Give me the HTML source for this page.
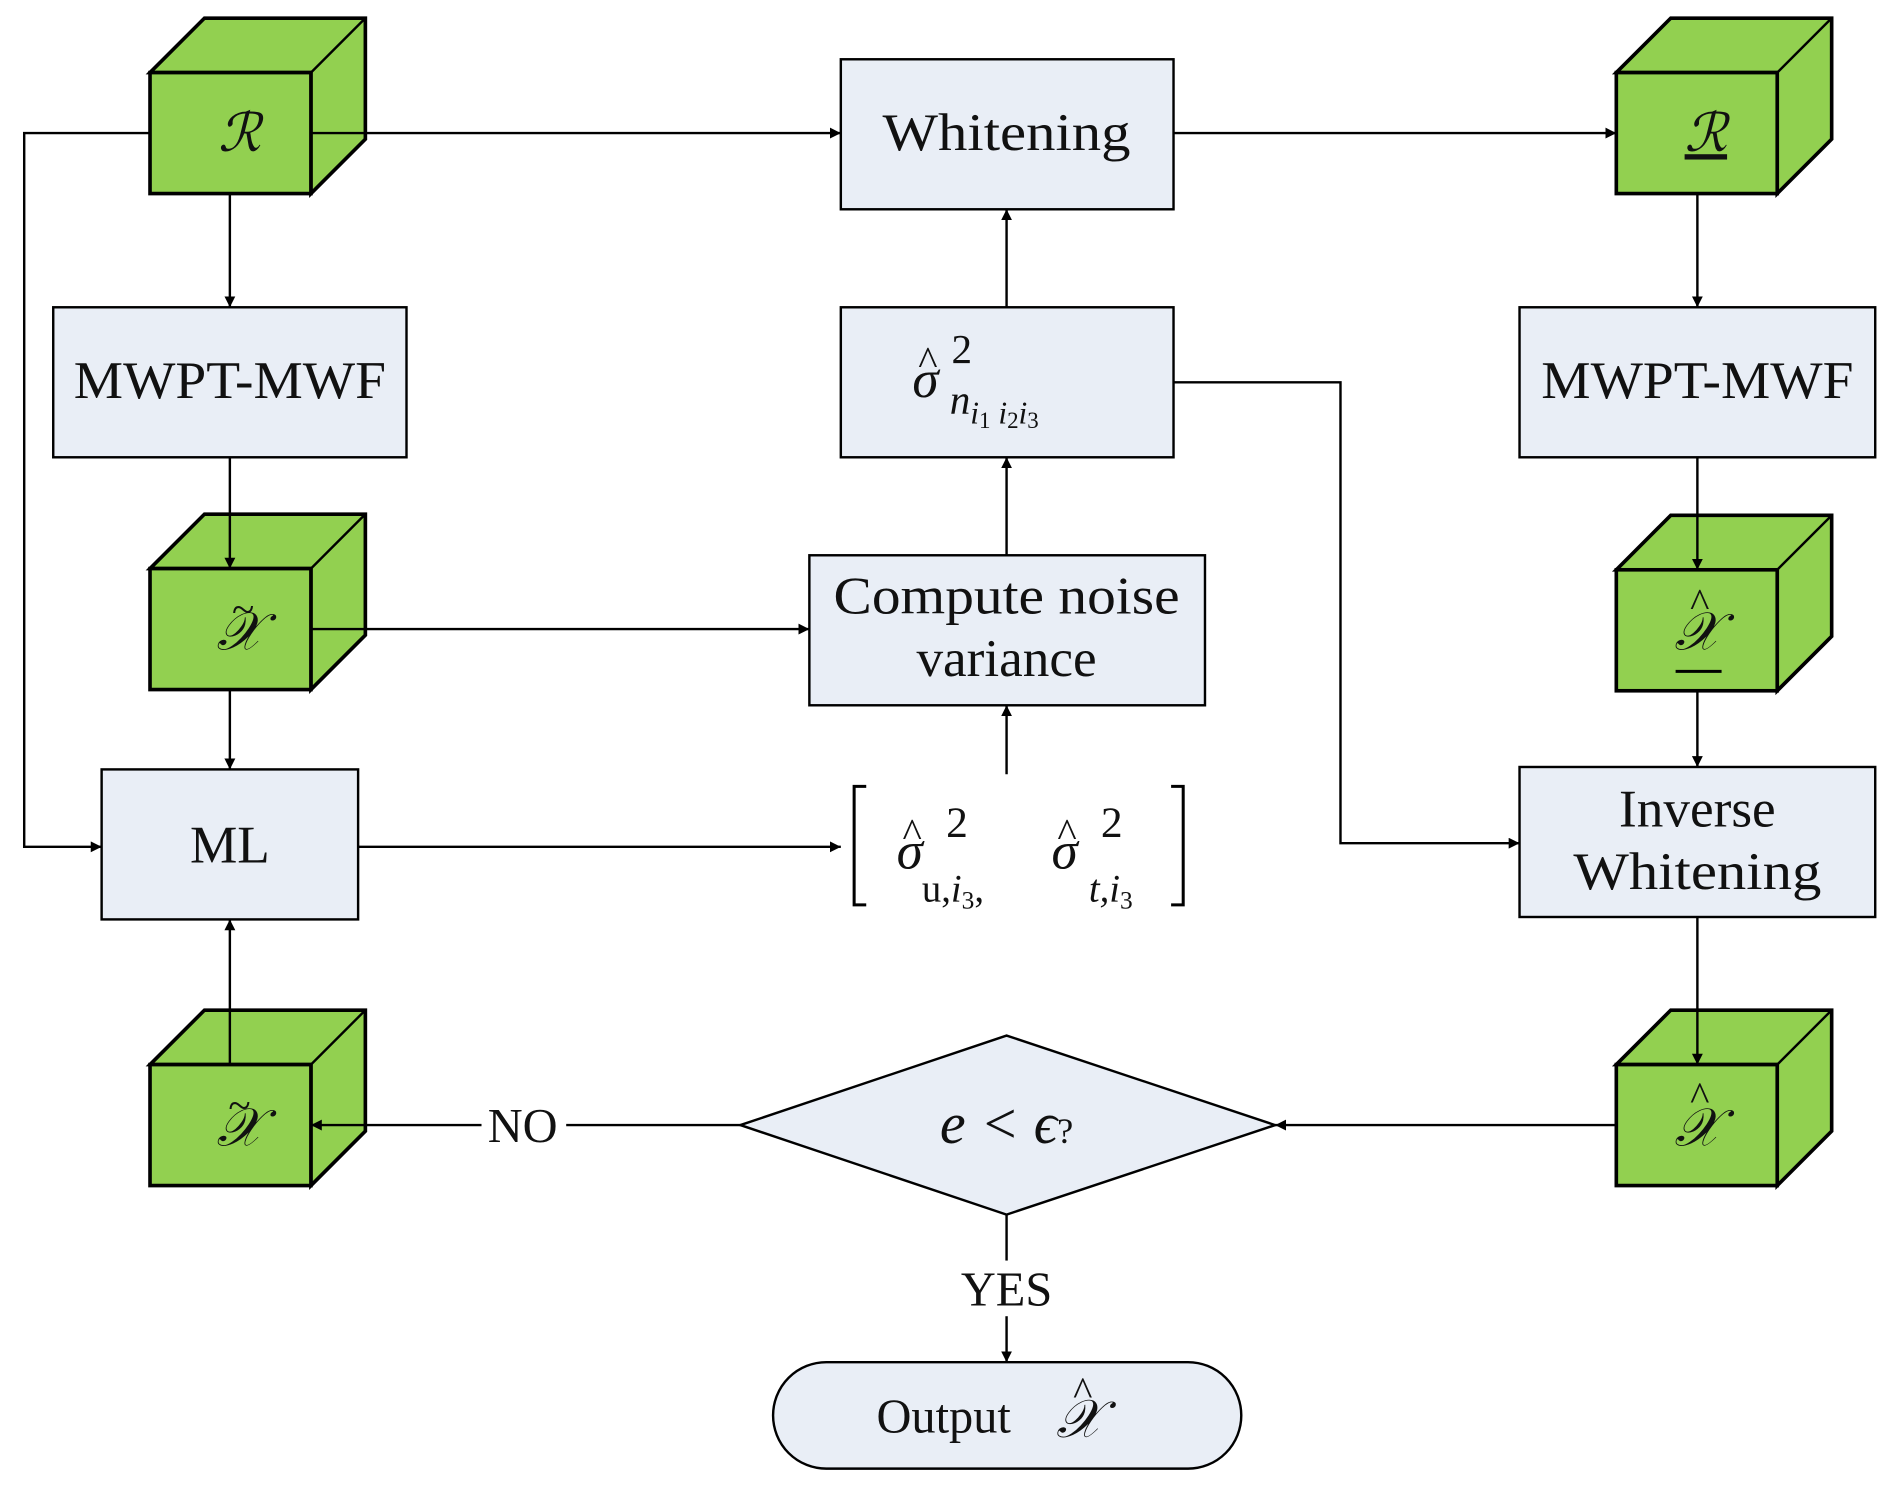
<!DOCTYPE html>
<html><head><style>html,body{margin:0;padding:0;background:#fff}svg{display:block}</style></head>
<body>
<svg width="1897" height="1488" viewBox="0 0 1568 1230" preserveAspectRatio="none" xmlns="http://www.w3.org/2000/svg" font-family="Liberation Serif, serif">
<defs>
<marker id="a" viewBox="0 0 10 10" refX="10" refY="5" markerWidth="9" markerHeight="9" markerUnits="userSpaceOnUse" orient="auto"><path d="M0,0 L10,5 L0,10 z" fill="#000"/></marker>
<g id="cube">
<path d="M0,0 L45,-45 L178,-45 L178,55 L133,100 L133,0 z" fill="#92d050" stroke="#000" stroke-width="3"/>
<path d="M133,0 L178,-45" stroke="#000" stroke-width="2"/>
<rect x="0" y="0" width="133" height="100" fill="#92d050" stroke="#000" stroke-width="3"/>
</g>
</defs>
<g fill="#e9eef6" stroke="#000" stroke-width="2">
<rect x="695" y="49" width="275" height="124"/>
<rect x="44" y="254" width="292" height="124"/>
<rect x="1256" y="254" width="294" height="124"/>
<rect x="695" y="254" width="275" height="124"/>
<rect x="669" y="459" width="327" height="124"/>
<rect x="84" y="636" width="212" height="124"/>
<rect x="1256" y="634" width="294" height="124"/>
<path d="M612,930 L832,856 L1054,930 L832,1004 z"/>
<rect x="639" y="1126" width="387" height="88" rx="44"/>
</g>
<use href="#cube" x="124" y="60"/>
<use href="#cube" x="124" y="470"/>
<use href="#cube" x="124" y="880"/>
<use href="#cube" x="1336" y="60"/>
<use href="#cube" x="1336" y="471"/>
<use href="#cube" x="1336" y="880"/>
<g stroke="#000" stroke-width="2" fill="none">
<path d="M124,110 L20,110 L20,700 L84,700" marker-end="url(#a)"/>
<path d="M257,110 L695,110" marker-end="url(#a)"/>
<path d="M970,110 L1336,110" marker-end="url(#a)"/>
<path d="M190,160 L190,254" marker-end="url(#a)"/>
<path d="M190,378 L190,470" marker-end="url(#a)"/>
<path d="M257,520 L669,520" marker-end="url(#a)"/>
<path d="M190,570 L190,636" marker-end="url(#a)"/>
<path d="M296,700 L695,700" marker-end="url(#a)"/>
<path d="M832,640 L832,583" marker-end="url(#a)"/>
<path d="M832,459 L832,378" marker-end="url(#a)"/>
<path d="M832,254 L832,173" marker-end="url(#a)"/>
<path d="M970,316 L1108,316 L1108,697 L1256,697" marker-end="url(#a)"/>
<path d="M1403,160 L1403,254" marker-end="url(#a)"/>
<path d="M1403,378 L1403,471" marker-end="url(#a)"/>
<path d="M1403,572 L1403,634" marker-end="url(#a)"/>
<path d="M1403,758 L1403,880" marker-end="url(#a)"/>
<path d="M1336,930 L1054,930" marker-end="url(#a)"/>
<path d="M612,930 L468,930"/>
<path d="M398,930 L257,930" marker-end="url(#a)"/>
<path d="M190,880 L190,760" marker-end="url(#a)"/>
<path d="M832,1004 L832,1042"/>
<path d="M832,1088 L832,1126" marker-end="url(#a)"/>
<path d="M716,650 L706,650 L706,748 L716,748" stroke-width="2.5"/>
<path d="M968,650 L978,650 L978,748 L968,748" stroke-width="2.5"/>
<path d="M1385,555 L1423,555" stroke-width="2.5"/>
</g>
<g font-size="44" text-anchor="middle" fill="#111">
<text x="832" y="124" textLength="205" lengthAdjust="spacingAndGlyphs">Whitening</text>
<text x="190" y="329" textLength="258" lengthAdjust="spacingAndGlyphs">MWPT-MWF</text>
<text x="1403" y="329" textLength="258" lengthAdjust="spacingAndGlyphs">MWPT-MWF</text>
<text x="832" y="507" textLength="286" lengthAdjust="spacingAndGlyphs">Compute noise</text>
<text x="832" y="559">variance</text>
<text x="190" y="713">ML</text>
<text x="1403" y="683">Inverse</text>
<text x="1403" y="735" textLength="205" lengthAdjust="spacingAndGlyphs">Whitening</text>
<text x="432" y="944" font-size="40">NO</text>
<text x="832" y="1079" font-size="40">YES</text>
<text x="780" y="1184" font-size="40">Output</text>
<g font-style="italic" font-size="44">
<text x="198" y="125">ℛ</text>
<text x="1410" y="125" text-decoration="underline">ℛ</text>
<text x="198" y="537">𝒳</text>
<text x="1403" y="537">𝒳</text>
<text x="198" y="947">𝒳</text>
<text x="1403" y="947">𝒳</text>
<text x="892" y="1188">𝒳</text>
<text x="832" y="945" font-size="48">e &lt; ϵ<tspan font-size="30" font-style="normal">?</tspan></text>
<text x="765" y="328">σ</text>
<text x="752" y="718">σ</text>
<text x="880" y="718">σ</text>
</g>
<g font-size="34" font-style="normal">
<text x="201" y="515">~</text>
<text x="198" y="925">~</text>
<text x="1405" y="510">^</text>
<text x="1405" y="918">^</text>
<text x="895" y="1162">^</text>
<text x="767" y="310">^</text>
<text x="754" y="700">^</text>
<text x="882" y="700">^</text>
</g>
<text x="795" y="300" font-size="34">2</text>
<text x="785" y="342" font-size="34" font-style="italic" text-anchor="start">n<tspan font-size="26" dy="8">i</tspan><tspan font-size="19" dy="4" font-style="normal">1</tspan><tspan font-size="26" dy="-4"> i</tspan><tspan font-size="19" dy="4" font-style="normal">2</tspan><tspan font-size="26" dy="-4">i</tspan><tspan font-size="19" dy="4" font-style="normal">3</tspan></text>
<text x="782" y="692" font-size="36" text-anchor="start">2</text>
<text x="762" y="745" font-size="32" text-anchor="start">u,<tspan font-style="italic">i</tspan><tspan font-size="21" dy="6">3</tspan><tspan dy="-6">,</tspan></text>
<text x="910" y="692" font-size="36" text-anchor="start">2</text>
<text x="900" y="745" font-size="32" font-style="italic" text-anchor="start">t,i<tspan font-size="21" dy="6" font-style="normal">3</tspan></text>
</g>
</svg>
</body></html>
